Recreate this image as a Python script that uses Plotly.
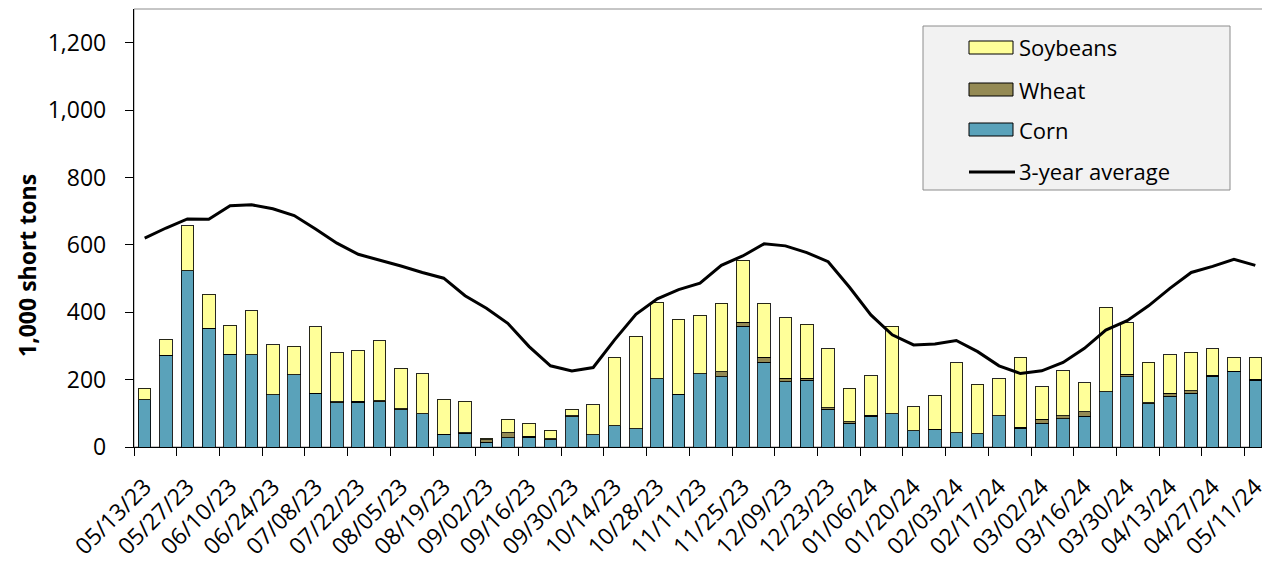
import plotly.graph_objects as go

weeks = ["05/13/23", "05/20/23", "05/27/23", "06/03/23", "06/10/23", "06/17/23", "06/24/23",
         "07/01/23", "07/08/23", "07/15/23", "07/22/23", "07/29/23", "08/05/23", "08/12/23",
         "08/19/23", "08/26/23", "09/02/23", "09/09/23", "09/16/23", "09/23/23", "09/30/23",
         "10/07/23", "10/14/23", "10/21/23", "10/28/23", "11/04/23", "11/11/23", "11/18/23",
         "11/25/23", "12/02/23", "12/09/23", "12/16/23", "12/23/23", "12/30/23", "01/06/24",
         "01/13/24", "01/20/24", "01/27/24", "02/03/24", "02/10/24", "02/17/24", "02/24/24",
         "03/02/24", "03/09/24", "03/16/24", "03/23/24", "03/30/24", "04/06/24", "04/13/24",
         "04/20/24", "04/27/24", "05/04/24", "05/11/24"]

corn = [140, 273, 523, 352, 276, 274, 155, 214, 160, 132, 133, 134, 111, 99, 38, 41, 14, 27, 29, 22,
        90, 37, 63, 54, 202, 157, 217, 209, 358, 251, 193, 198, 112, 71, 91, 98, 48, 53, 42, 40,
        93, 55, 70, 84, 91, 164, 209, 128, 150, 159, 210, 225, 198]

wheat = [0, 0, 0, 0, 0, 0, 0, 0, 0, 3, 3, 3, 3, 0, 0, 2, 7, 15, 3, 2,
         3, 0, 0, 0, 0, 0, 0, 14, 13, 16, 11, 6, 4, 4, 3, 0, 0, 0, 0, 0,
         0, 3, 12, 9, 13, 0, 7, 3, 9, 8, 3, 0, 3]

soybeans = [35, 47, 133, 101, 86, 130, 149, 85, 197, 145, 150, 178, 120, 119, 104, 93, 5, 41, 39, 26,
            19, 89, 204, 275, 227, 222, 174, 203, 184, 159, 180, 160, 175, 99, 118, 261, 71, 100, 208, 146,
            110, 208, 97, 133, 87, 251, 153, 121, 115, 114, 79, 42, 66]

avg_3yr = [620, 650, 677, 676, 716, 719, 707, 687, 647, 605, 572, 555, 537, 518, 501, 449, 412, 367, 298, 241,
           226, 236, 318, 394, 440, 467, 486, 539, 567, 603, 597, 577, 550, 474, 392, 333, 303, 306, 316, 283,
           241, 218, 226, 251, 293, 347, 375, 419, 471, 518, 536, 557, 539]

y_ticks = [0, 200, 400, 600, 800, 1000, 1200]

FONT = "Open Sans"
C_CORN = "#5AA2BA"
C_WHEAT = "#948A54"
C_SOY = "#FFFF99"
OUTLINE = dict(color="rgba(0,0,0,0.85)", width=1)

# the page body has an 8px margin; size the figure so it ends at the window edge
OFF = 8
W, H = 1270 - OFF, 567 - OFF
PLOT_L, PLOT_R, PLOT_T, PLOT_B = 134, 1266, 9, 447  # plot area in window pixels
M_L, M_R, M_T, M_B = PLOT_L - OFF, 1270 - PLOT_R, PLOT_T - OFF, 567 - PLOT_B
PW, PH = PLOT_R - PLOT_L, PLOT_B - PLOT_T


def px_x(p):
    return (p - PLOT_L) / PW


def px_y(p):
    return (PLOT_B - p) / PH


fig = go.Figure()
fig.add_trace(go.Bar(x=weeks, y=corn, name="Corn", marker=dict(color=C_CORN, line=OUTLINE), showlegend=False))
fig.add_trace(go.Bar(x=weeks, y=wheat, name="Wheat", marker=dict(color=C_WHEAT, line=OUTLINE), showlegend=False))
fig.add_trace(go.Bar(x=weeks, y=soybeans, name="Soybeans", marker=dict(color=C_SOY, line=OUTLINE), showlegend=False))
fig.add_trace(go.Scatter(x=weeks, y=avg_3yr, name="3-year average", mode="lines",
                         line=dict(color="black", width=3), showlegend=False))

shapes = [
    dict(type="rect", xref="paper", yref="paper", x0=0, x1=1, y0=0, y1=1,
         line=dict(color="#8C8C8C", width=1), layer="below"),
    # legend box
    dict(type="rect", xref="paper", yref="paper", x0=px_x(923), x1=px_x(1230), y0=px_y(190), y1=px_y(26),
         fillcolor="#F2F2F2", line=dict(color="#8C8C8C", width=1), layer="above"),
]
annotations = []
legend_items = [("Soybeans", C_SOY, 47.5), ("Wheat", C_WHEAT, 89.5), ("Corn", C_CORN, 129.5)]
for name, col, cy in legend_items:
    shapes.append(dict(type="rect", xref="paper", yref="paper", x0=px_x(969), x1=px_x(1013),
                       y0=px_y(cy + 6.5), y1=px_y(cy - 6.5), fillcolor=col,
                       line=dict(color="black", width=1), layer="above"))
    annotations.append(dict(text=name, xref="paper", yref="paper", x=px_x(1017), y=px_y(cy),
                            xanchor="left", yanchor="middle", showarrow=False,
                            font=dict(family=FONT, size=22, color="black")))
shapes.append(dict(type="line", xref="paper", yref="paper", x0=px_x(969), x1=px_x(1015),
                   y0=px_y(172), y1=px_y(172), line=dict(color="black", width=3), layer="above"))
annotations.append(dict(text="3-year average", xref="paper", yref="paper", x=px_x(1017), y=px_y(171),
                        xanchor="left", yanchor="middle", showarrow=False,
                        font=dict(family=FONT, size=22, color="black")))
annotations.append(dict(text="<b>1,000 short tons</b>", xref="paper", yref="paper",
                        x=px_x(27), y=px_y(266), textangle=-90, xanchor="center", yanchor="middle",
                        showarrow=False, font=dict(family=FONT, size=23, color="black")))

fig.update_layout(
    width=W, height=H,
    margin=dict(l=M_L, r=M_R, t=M_T, b=M_B, pad=0, autoexpand=False),
    paper_bgcolor="white", plot_bgcolor="white",
    barmode="stack", bargap=0.41,
    font=dict(family=FONT, size=22, color="black"),
    shapes=shapes, annotations=annotations,
    xaxis=dict(type="category", categoryorder="array", categoryarray=weeks,
               tickmode="linear", tick0=0, dtick=2, tickson="boundaries",
               tickangle=-45, ticks="outside", ticklen=8, tickcolor="black",
               showline=True, linecolor="black", linewidth=1.3, showgrid=False,
               ticklabelstandoff=16, tickfont=dict(family=FONT, size=23), automargin=False),
    yaxis=dict(range=[0, 1300], tickvals=y_ticks, tickformat=",d", ticks="outside", ticklen=8,
               tickcolor="black", showline=True, linecolor="black", linewidth=1.3,
               showgrid=False, zeroline=False, ticklabelstandoff=14,
               tickfont=dict(family=FONT, size=23), automargin=False),
)

fig.write_html("out.html")
